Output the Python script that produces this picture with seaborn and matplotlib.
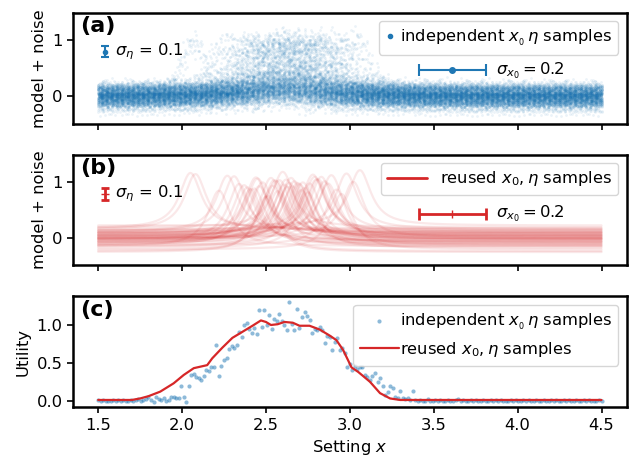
import numpy as np
import pandas as pd
import matplotlib
matplotlib.use("Agg")
import matplotlib.pyplot as plt
import seaborn as sns
from matplotlib.lines import Line2D

# ---------------- data ----------------
# sampled peak positions x0 and noise offsets eta (one pair per reused curve)
x0_samples = [2.62, 2.41, 2.85, 2.05, 2.70, 2.53, 2.95, 2.31, 2.66, 2.48,
              2.78, 2.22, 2.58, 2.87, 2.44, 2.73, 2.60, 2.37, 3.02, 2.50,
              2.81, 2.63, 2.27, 2.69, 2.56, 2.92, 2.45, 2.75, 2.08, 2.61,
              2.83, 2.39, 2.67, 2.54, 3.06, 2.43, 2.72, 2.57, 2.89, 2.34,
              2.65, 2.51, 2.80, 2.46, 2.98, 2.64, 2.55, 2.71, 2.79, 2.76]
eta_samples = [0.05, -0.12, 0.02, 0.17, -0.03, 0.08, -0.21, 0.11, -0.07, 0.00,
               0.14, -0.15, 0.04, -0.02, 0.09, -0.10, 0.19, -0.05, 0.01, -0.26,
               0.06, -0.08, 0.12, -0.01, 0.03, -0.13, 0.07, -0.18, 0.15, -0.04,
               0.10, -0.09, 0.02, -0.06, 0.22, -0.11, 0.00, -0.16, 0.13, -0.03,
               0.08, -0.24, 0.05, -0.07, 0.16, -0.01, 0.04, -0.14, 0.10, -0.02]
peak_hwhm = 0.08
setting_min, setting_max = 1.5, 4.5

# utility from independent samples (one value per setting on the grid)
utility_indep = [
    0.01, 0.00, 0.01, -0.01, 0.00, -0.01, 0.01, 0.00, 0.01, 0.00,
    0.01, -0.01, 0.00, 0.01, 0.00, 0.01, 0.02, 0.00, 0.01, 0.02,
    0.05, 0.01, -0.02, 0.05, 0.02, 0.01, 0.03, 0.00, 0.01, 0.05,
    0.05, 0.03, 0.04, 0.20, 0.05, -0.02, 0.19, 0.34, 0.35, 0.31,
    0.30, 0.27, 0.33, 0.40, 0.39, 0.44,
    0.44, 0.74, 0.32, 0.46, 0.54, 0.56, 0.68, 0.72, 0.70, 0.74,
    0.91, 0.84, 1.00, 1.03, 0.95, 0.89, 0.96, 0.88, 1.20, 0.98,
    1.20, 1.00, 1.13, 0.95, 1.08, 1.05, 1.14, 1.05, 1.00, 0.93,
    1.31, 1.01, 0.94, 1.21, 0.96,
    1.10, 1.17, 1.12, 1.07, 0.89, 0.95, 0.93, 0.98, 0.93, 0.76,
    0.85, 0.84, 0.67, 0.77, 0.83, 0.67, 0.69, 0.63, 0.45, 0.48,
    0.40, 0.46, 0.42, 0.45, 0.44, 0.34, 0.31, 0.27, 0.33, 0.36,
    0.25, 0.30, 0.20, 0.08, 0.12, 0.19, 0.17, 0.05, 0.04, 0.13,
    0.03, 0.02, 0.04, 0.01, 0.13, 0.01,
    0.00, 0.01, -0.01, 0.00, 0.02, 0.00, -0.01, 0.01, 0.00, 0.01,
    -0.01, 0.00, 0.01, 0.00, -0.01, 0.01, 0.02, 0.00, 0.01, -0.01,
    0.00, 0.01, 0.00, 0.01, -0.01, 0.00, 0.01, 0.00, 0.00, 0.01,
    -0.01, 0.01, 0.00, 0.01, 0.00, -0.01, 0.00, 0.01, 0.00, 0.01,
    -0.01, 0.00, 0.01, 0.00, 0.01, 0.00, -0.01, 0.01, 0.00, 0.00,
    0.01, -0.01, 0.00, 0.01, 0.00, 0.01, 0.00, -0.01, 0.01, 0.00,
    0.01, 0.00, 0.00, 0.01, -0.01, 0.00, 0.01, 0.00, 0.01, 0.00,
    -0.01, 0.00, 0.01, 0.00]

# utility from reused samples
reused_x = [1.50, 1.60, 1.70, 1.75, 1.80, 1.87, 1.95, 2.01, 2.07, 2.13, 2.15,
            2.18, 2.24, 2.30, 2.36, 2.42, 2.47, 2.50, 2.53, 2.57, 2.61, 2.66,
            2.70, 2.76, 2.82, 2.88, 2.92, 2.96, 3.01, 3.05, 3.12, 3.18, 3.24,
            3.30, 3.50, 4.00, 4.50]
reused_u = [0.01, 0.01, 0.01, 0.03, 0.06, 0.12, 0.23, 0.34, 0.43, 0.46, 0.47,
            0.56, 0.70, 0.83, 0.91, 0.99, 1.06, 1.04, 1.00, 1.01, 1.04, 1.03,
            0.99, 0.99, 0.94, 0.86, 0.80, 0.67, 0.44, 0.38, 0.25, 0.10, 0.03,
            0.01, 0.01, 0.01, 0.01]

BLUE = "#1f77b4"
RED = "#d62728"
FS = 11.8


def model(x, x0):
    return 1.0 / (1.0 + ((x - x0) / peak_hwhm) ** 2)


x0_arr = np.array(x0_samples)
eta_arr = np.array(eta_samples)
n = len(x0_arr)

# panel (a): independent (x0, eta) combinations at every setting;
# each point's noise combines two entries of the eta list, paired differently per setting
grid_a = np.linspace(setting_min, setting_max, 601)
j_idx, k_idx = np.meshgrid(np.arange(len(grid_a)), np.arange(n), indexing="ij")
xa = grid_a[j_idx].ravel()
x0a = x0_arr[((k_idx + 17 * j_idx + (j_idx * j_idx) // 7) % n).ravel()]
eta_p = eta_arr[((3 * k_idx + 29 * j_idx) % n).ravel()]
eta_q = eta_arr[((7 * k_idx + j_idx * j_idx + 3 * j_idx) % n).ravel()]
etaa = (eta_p + eta_q) / np.sqrt(2.0)
df_a = pd.DataFrame({"x": xa, "y": etaa + model(xa, x0a)})

# panel (b): reused curves
grid_b = np.linspace(setting_min, setting_max, 400)
df_b = pd.DataFrame({
    "x": np.tile(grid_b, n),
    "y": np.concatenate([e + model(grid_b, c) for c, e in zip(x0_arr, eta_arr)]),
    "curve": np.repeat(np.arange(n), len(grid_b)),
})

grid_c = np.linspace(setting_min, setting_max, len(utility_indep))
df_c = pd.DataFrame({"x": grid_c, "u": utility_indep})
df_r = pd.DataFrame({"x": reused_x, "u": reused_u})

# ---------------- style ----------------
sns.set_theme(style="ticks")
plt.rcParams.update({
    "font.family": ["DejaVu Sans"],
    "mathtext.fontset": "dejavusans",
    "font.size": FS,
    "axes.labelsize": FS,
    "xtick.labelsize": FS,
    "ytick.labelsize": FS,
    "legend.fontsize": FS,
    "text.color": "black",
    "axes.labelcolor": "black",
    "axes.linewidth": 1.8,
    "axes.edgecolor": "black",
    "xtick.color": "black",
    "ytick.color": "black",
    "xtick.major.width": 1.2,
    "ytick.major.width": 1.2,
    "xtick.major.size": 4,
    "ytick.major.size": 4,
})

fig, axes = plt.subplots(3, 1, figsize=(6.33, 4.57), dpi=100, sharex=True)
fig.subplots_adjust(left=0.1153, right=0.990, top=0.972, bottom=0.1088, hspace=0.28)
ax_a, ax_b, ax_c = axes

# (a)
sns.scatterplot(data=df_a, x="x", y="y", ax=ax_a, s=4, alpha=0.085, color=BLUE,
                linewidth=0, legend=False, rasterized=True)
ax_a.set_ylim(-0.5, 1.5)
ax_a.set_yticks([0, 1])
ax_a.set_ylabel("model + noise")
ax_a.set_xlabel("")
ax_a.errorbar(1.54, 0.80, yerr=0.1, fmt="o", ms=3, color=BLUE, capsize=3,
              elinewidth=1.5, capthick=1.5)
ax_a.text(1.60, 0.80, r"$\sigma_\eta$ = 0.1", va="center", ha="left", fontsize=FS)
ax_a.errorbar(3.61, 0.46, xerr=0.2, fmt="o", ms=4, color=BLUE, capsize=4,
              elinewidth=1.5, capthick=1.5)
ax_a.text(3.87, 0.46, r"$\sigma_{x_0} = 0.2$", va="center", ha="left", fontsize=FS)
ax_a.legend(handles=[Line2D([], [], ls="", marker="o", ms=3, color=BLUE,
                            label=r"independent $x_{_0}\,\eta$ samples")],
            loc="upper right", handlelength=0.6, handletextpad=0.3)
ax_a.text(0.012, 0.97, "(a)", transform=ax_a.transAxes, ha="left", va="top",
          fontsize=16, fontweight="bold")

# (b)
sns.lineplot(data=df_b, x="x", y="y", units="curve", estimator=None, ax=ax_b,
             color=RED, alpha=0.1, lw=1.6, legend=False)
ax_b.set_ylim(-0.5, 1.5)
ax_b.set_yticks([0, 1])
ax_b.set_ylabel("model + noise")
ax_b.set_xlabel("")
ax_b.errorbar(1.54, 0.79, yerr=0.1, fmt="_", ms=6, color=RED, capsize=3,
              elinewidth=2, capthick=2)
ax_b.text(1.60, 0.79, r"$\sigma_\eta$ = 0.1", va="center", ha="left", fontsize=FS)
ax_b.errorbar(3.61, 0.43, xerr=0.2, fmt="|", ms=6, color=RED, capsize=4,
              elinewidth=2, capthick=2)
ax_b.text(3.87, 0.43, r"$\sigma_{x_0} = 0.2$", va="center", ha="left", fontsize=FS)
ax_b.legend(handles=[Line2D([], [], color=RED, lw=2, label=r"reused $x_0, \eta$ samples")],
            loc="upper right", handlelength=2.4)
ax_b.text(0.012, 0.97, "(b)", transform=ax_b.transAxes, ha="left", va="top",
          fontsize=16, fontweight="bold")

# (c)
sns.scatterplot(data=df_c, x="x", y="u", ax=ax_c, s=9, alpha=0.5, color=BLUE,
                linewidth=0, label=r"independent $x_{_0}\,\eta$ samples")
sns.lineplot(data=df_r, x="x", y="u", ax=ax_c, color=RED, lw=1.6,
             label=r"reused $x_0, \eta$ samples")
ax_c.set_ylabel("Utility")
ax_c.set_xlabel(r"Setting $x$")
ax_c.set_yticks([0.0, 0.5, 1.0])
ax_c.set_xticks([1.5, 2.0, 2.5, 3.0, 3.5, 4.0, 4.5])
ax_c.legend(loc="upper right", handlelength=2.4, handletextpad=0.05)
ax_c.text(0.012, 0.97, "(c)", transform=ax_c.transAxes, ha="left", va="top",
          fontsize=16, fontweight="bold")

fig.savefig("out.png", dpi=100)
